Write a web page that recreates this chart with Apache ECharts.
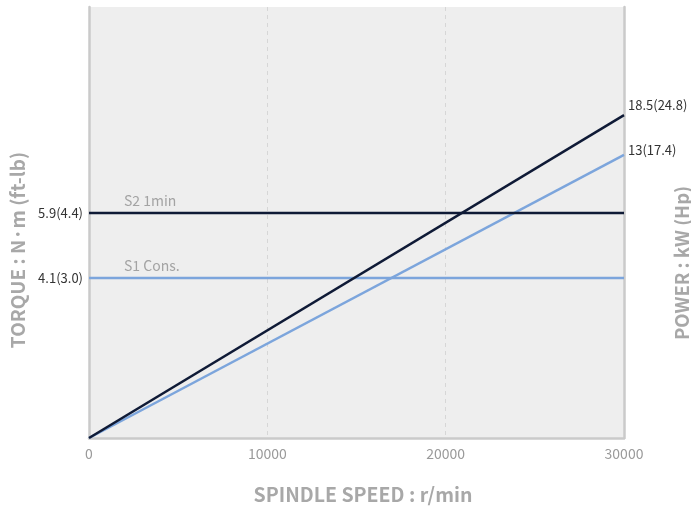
<!DOCTYPE html>
<html>
<head>
<meta charset="utf-8">
<script src="https://cdn.jsdelivr.net/npm/echarts@6/dist/echarts.min.js"></script>
<style>html,body{margin:0;padding:0;background:#fff;}#c{width:691px;height:506px;}</style>
</head>
<body>
<div id="c"></div>
<script>
// Spindle speed axis (r/min)
const speedRange = [0, 30000];
const speedTicks = [0, 10000, 20000, 30000];
// Torque rating lines (drawn level on the chart's schematic 0-100 scale)
const torqueNames = ['S2 1min', 'S1 Cons.'];
const torqueLabels = ['5.9(4.4)', '4.1(3.0)'];
const torqueLevels = [52.2, 37.1];
// Power curves: end level at max speed (schematic 0-100 scale)
const powerLabels = ['18.5(24.8)', '13(17.4)'];
const powerLevels = [74.9, 65.7];

const FONT = '"Noto Sans CJK KR", "Noto Sans", sans-serif';
const DARK = '#0f1a36';
const LIGHT = '#7ca5dc';
const colors = [DARK, LIGHT];

const chart = echarts.init(document.getElementById('c'));

const series = [];
// light first, dark on top
[1, 0].forEach(i => {
  series.push({
    type: 'line',
    name: torqueNames[i],
    data: [
      { value: [speedRange[0], torqueLevels[i]],
        label: { show: true, formatter: torqueNames[i], position: 'top', align: 'left',
                 offset: [35, 0], color: '#a3a3a3', fontSize: 14, fontFamily: FONT } },
      { value: [speedRange[1], torqueLevels[i]] }
    ],
    symbol: 'circle', symbolSize: 0, showSymbol: true,
    lineStyle: { color: colors[i], width: 2.5 },
    itemStyle: { color: colors[i] },
    animation: false, silent: true, z: 3
  });
  series.push({
    type: 'line',
    name: powerLabels[i],
    data: [[speedRange[0], 0], [speedRange[1], powerLevels[i]]],
    symbol: 'none',
    lineStyle: { color: colors[i], width: 2.5 },
    endLabel: { show: true, formatter: powerLabels[i], offset: [0, i === 0 ? -10 : -5], distance: 4,
                color: '#333', fontSize: 13, fontFamily: FONT },
    animation: false, silent: true, z: 3
  });
});

chart.setOption({
  animation: false,
  grid: { left: 89, right: 67, top: 7, bottom: 68, show: true, backgroundColor: '#eeeeee', borderWidth: 0 },
  xAxis: {
    type: 'value', min: speedRange[0], max: speedRange[1], interval: 10000,
    axisLine: { show: true, lineStyle: { color: '#cacaca', width: 2.5 } },
    axisTick: { show: false },
    axisLabel: { color: '#9a9a9a', fontSize: 14, fontFamily: FONT, margin: 9,
                 formatter: v => speedTicks.includes(v) ? String(v) : '' },
    splitLine: { show: true, lineStyle: { color: '#d6d6d6', type: [4, 4], width: 1 } }
  },
  yAxis: [
    {
      type: 'value', min: 0, max: 100, position: 'left',
      axisLine: { show: true, lineStyle: { color: '#cacaca', width: 2.5 } },
      axisTick: { show: false },
      splitLine: { show: false },
      axisLabel: {
        customValues: torqueLevels,
        formatter: v => { const k = torqueLevels.indexOf(v); return k >= 0 ? torqueLabels[k] : ''; },
        color: '#333', fontSize: 13, fontFamily: FONT, margin: 6
      }
    },
    {
      type: 'value', min: 0, max: 100, position: 'right',
      axisLine: { show: true, lineStyle: { color: '#cacaca', width: 2.5 } },
      axisTick: { show: false }, axisLabel: { show: false }, splitLine: { show: false }
    }
  ],
  graphic: [
    { type: 'text', x: 18, y: 250, rotation: Math.PI / 2,
      style: { text: 'TORQUE : N·m (ft-lb)', font: 'bold 19px ' + FONT, fill: '#a8a8a8', align: 'center', verticalAlign: 'middle' } },
    { type: 'text', x: 682, y: 263, rotation: Math.PI / 2,
      style: { text: 'POWER : kW (Hp)', font: 'bold 18.5px ' + FONT, fill: '#a8a8a8', align: 'center', verticalAlign: 'middle' } },
    { type: 'text', x: 363, y: 495,
      style: { text: 'SPINDLE SPEED : r/min', font: 'bold 19.5px ' + FONT, fill: '#a8a8a8', align: 'center', verticalAlign: 'middle' } }
  ],
  series: series
});
</script>
</body>
</html>
